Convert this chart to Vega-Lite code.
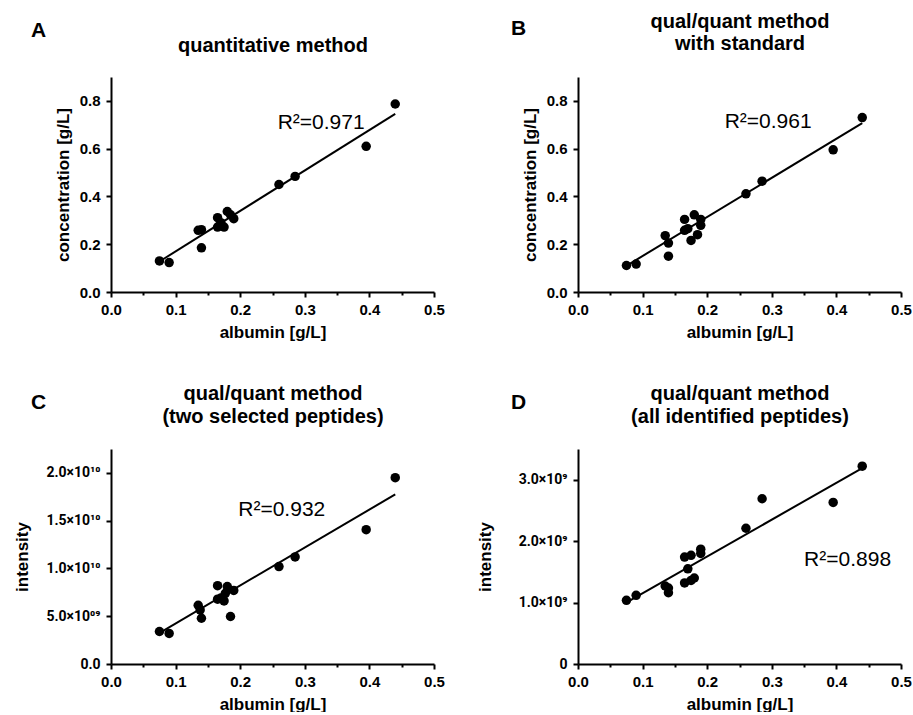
{
  "$schema": "https://vega.github.io/schema/vega-lite/v6.json",
  "background": "white",
  "padding": {"left": 13, "top": 11, "right": 0, "bottom": 0},
  "datasets": {
    "A": [
      {"x": 0.075, "y": 0.130}, {"x": 0.09, "y": 0.123}, {"x": 0.135, "y": 0.258}, {"x": 0.14, "y": 0.261},
      {"x": 0.14, "y": 0.185}, {"x": 0.165, "y": 0.311}, {"x": 0.165, "y": 0.272}, {"x": 0.17, "y": 0.29},
      {"x": 0.175, "y": 0.272}, {"x": 0.18, "y": 0.337}, {"x": 0.185, "y": 0.323}, {"x": 0.19, "y": 0.307},
      {"x": 0.26, "y": 0.450}, {"x": 0.285, "y": 0.484}, {"x": 0.395, "y": 0.610}, {"x": 0.44, "y": 0.787}
    ],
    "Aline": [{"x": 0.08, "y": 0.136}, {"x": 0.44, "y": 0.746}],
    "B": [
      {"x": 0.075, "y": 0.111}, {"x": 0.09, "y": 0.117}, {"x": 0.135, "y": 0.236}, {"x": 0.14, "y": 0.205},
      {"x": 0.14, "y": 0.150}, {"x": 0.165, "y": 0.304}, {"x": 0.165, "y": 0.258}, {"x": 0.17, "y": 0.265},
      {"x": 0.175, "y": 0.216}, {"x": 0.18, "y": 0.323}, {"x": 0.185, "y": 0.240}, {"x": 0.19, "y": 0.304},
      {"x": 0.19, "y": 0.279}, {"x": 0.26, "y": 0.411}, {"x": 0.285, "y": 0.464}, {"x": 0.395, "y": 0.595},
      {"x": 0.44, "y": 0.730}
    ],
    "Bline": [{"x": 0.08, "y": 0.118}, {"x": 0.44, "y": 0.707}],
    "C": [
      {"x": 0.075, "y": 3.4e9}, {"x": 0.09, "y": 3.2e9}, {"x": 0.135, "y": 6.15e9}, {"x": 0.138, "y": 5.66e9},
      {"x": 0.14, "y": 4.79e9}, {"x": 0.165, "y": 8.2e9}, {"x": 0.165, "y": 6.78e9}, {"x": 0.17, "y": 6.9e9},
      {"x": 0.175, "y": 6.6e9}, {"x": 0.177, "y": 7.4e9}, {"x": 0.18, "y": 8.1e9}, {"x": 0.185, "y": 4.97e9},
      {"x": 0.19, "y": 7.7e9}, {"x": 0.26, "y": 1.02e10}, {"x": 0.285, "y": 1.12e10}, {"x": 0.395, "y": 1.406e10},
      {"x": 0.44, "y": 1.95e10}
    ],
    "Cline": [{"x": 0.08, "y": 3.45e9}, {"x": 0.44, "y": 1.775e10}],
    "D": [
      {"x": 0.075, "y": 1.036e9}, {"x": 0.09, "y": 1.118e9}, {"x": 0.135, "y": 1.27e9}, {"x": 0.14, "y": 1.237e9},
      {"x": 0.14, "y": 1.16e9}, {"x": 0.165, "y": 1.74e9}, {"x": 0.165, "y": 1.32e9}, {"x": 0.17, "y": 1.55e9},
      {"x": 0.175, "y": 1.77e9}, {"x": 0.175, "y": 1.36e9}, {"x": 0.18, "y": 1.40e9}, {"x": 0.19, "y": 1.87e9},
      {"x": 0.19, "y": 1.80e9}, {"x": 0.26, "y": 2.21e9}, {"x": 0.285, "y": 2.69e9}, {"x": 0.395, "y": 2.63e9},
      {"x": 0.44, "y": 3.22e9}
    ],
    "Dline": [{"x": 0.08, "y": 1.03e9}, {"x": 0.44, "y": 3.19e9}]
  },
  "columns": 2,
  "spacing": {"row": 157, "column": 144},
  "bounds": "flush",
  "concat": [
    {
      "width": 323, "height": 215,
      "title": {"text": "A", "anchor": "start", "frame": "group", "dx": -80, "offset": -6},
      "resolve": {"axis": {"x": "independent"}},
      "layer": [
        {
          "data": {"name": "A"},
          "mark": {"type": "circle", "size": 90, "color": "black", "opacity": 1},
          "encoding": {
            "x": {"field": "x", "type": "quantitative", "scale": {"domain": [0, 0.5], "nice": false},
              "axis": {"orient": "bottom", "title": "albumin [g/L]", "values": [0, 0.05, 0.1, 0.15, 0.2, 0.25, 0.3, 0.35, 0.4, 0.45, 0.5],
                "labelExpr": "round(datum.value*20) % 2 == 0 ? format(datum.value, '.1f') : ''",
                "tickSize": {"condition": {"test": "round(datum.value*20) % 2 == 1", "value": 3}, "value": 5}}},
            "y": {"field": "y", "type": "quantitative", "scale": {"domain": [0, 0.9], "nice": false},
              "axis": {"title": "concentration [g/L]", "labelPadding": 6, "values": [0, 0.1, 0.2, 0.3, 0.4, 0.5, 0.6, 0.7, 0.8, 0.9],
                "labelExpr": "round(datum.value*10) % 2 == 0 ? format(datum.value, '.1f') : ''",
                "tickSize": {"condition": {"test": "round(datum.value*10) % 2 == 1", "value": 3}, "value": 5}}}
          }
        },
        {
          "data": {"name": "Aline"},
          "mark": {"type": "line", "color": "black", "strokeWidth": 2},
          "encoding": {
            "x": {"field": "x", "type": "quantitative",
              "axis": {"orient": "top", "domain": false, "ticks": false, "labels": false, "title": "quantitative method",
                "titleFontSize": 20, "titlePadding": 22}},
            "y": {"field": "y", "type": "quantitative"}
          }
        },
        {
          "data": {"values": [{"x": 0.258, "y": 0.709, "label": "R²=0.971"}]},
          "mark": {"type": "text", "align": "left", "baseline": "middle", "fontSize": 21, "font": "Liberation Sans", "color": "black"},
          "encoding": {
            "x": {"field": "x", "type": "quantitative", "axis": null},
            "y": {"field": "y", "type": "quantitative"},
            "text": {"field": "label"}
          }
        }
      ]
    },
    {
      "width": 323, "height": 215,
      "title": {"text": "B", "anchor": "start", "frame": "group", "dx": -67, "offset": -28},
      "resolve": {"axis": {"x": "independent"}},
      "layer": [
        {
          "data": {"name": "B"},
          "mark": {"type": "circle", "size": 90, "color": "black", "opacity": 1},
          "encoding": {
            "x": {"field": "x", "type": "quantitative", "scale": {"domain": [0, 0.5], "nice": false},
              "axis": {"orient": "bottom", "title": "albumin [g/L]", "values": [0, 0.05, 0.1, 0.15, 0.2, 0.25, 0.3, 0.35, 0.4, 0.45, 0.5],
                "labelExpr": "round(datum.value*20) % 2 == 0 ? format(datum.value, '.1f') : ''",
                "tickSize": {"condition": {"test": "round(datum.value*20) % 2 == 1", "value": 3}, "value": 5}}},
            "y": {"field": "y", "type": "quantitative", "scale": {"domain": [0, 0.9], "nice": false},
              "axis": {"title": "concentration [g/L]", "labelPadding": 6, "values": [0, 0.1, 0.2, 0.3, 0.4, 0.5, 0.6, 0.7, 0.8, 0.9],
                "labelExpr": "round(datum.value*10) % 2 == 0 ? format(datum.value, '.1f') : ''",
                "tickSize": {"condition": {"test": "round(datum.value*10) % 2 == 1", "value": 3}, "value": 5}}}
          }
        },
        {
          "data": {"name": "Bline"},
          "mark": {"type": "line", "color": "black", "strokeWidth": 2},
          "encoding": {
            "x": {"field": "x", "type": "quantitative",
              "axis": {"orient": "top", "domain": false, "ticks": false, "labels": false, "title": ["qual/quant method", "with standard"],
                "titleFontSize": 20, "titleLineHeight": 22, "titlePadding": 24}},
            "y": {"field": "y", "type": "quantitative"}
          }
        },
        {
          "data": {"values": [{"x": 0.227, "y": 0.713, "label": "R²=0.961"}]},
          "mark": {"type": "text", "align": "left", "baseline": "middle", "fontSize": 21, "font": "Liberation Sans", "color": "black"},
          "encoding": {
            "x": {"field": "x", "type": "quantitative", "axis": null},
            "y": {"field": "y", "type": "quantitative"},
            "text": {"field": "label"}
          }
        }
      ]
    },
    {
      "width": 323, "height": 215,
      "title": {"text": "C", "anchor": "start", "frame": "group", "dx": -80, "offset": -30},
      "resolve": {"axis": {"x": "independent"}},
      "layer": [
        {
          "data": {"name": "C"},
          "mark": {"type": "circle", "size": 90, "color": "black", "opacity": 1},
          "encoding": {
            "x": {"field": "x", "type": "quantitative", "scale": {"domain": [0, 0.5], "nice": false},
              "axis": {"orient": "bottom", "title": "albumin [g/L]", "values": [0, 0.05, 0.1, 0.15, 0.2, 0.25, 0.3, 0.35, 0.4, 0.45, 0.5],
                "labelExpr": "round(datum.value*20) % 2 == 0 ? format(datum.value, '.1f') : ''",
                "tickSize": {"condition": {"test": "round(datum.value*20) % 2 == 1", "value": 3}, "value": 5}}},
            "y": {"field": "y", "type": "quantitative", "scale": {"domain": [0, 2.25e10], "nice": false},
              "axis": {"title": "intensity", "labelFontSize": 14, "labelFont": "Roboto", "labelPadding": 6, "titlePadding": 14,
                "values": [0, 2.5e9, 5e9, 7.5e9, 1e10, 1.25e10, 1.5e10, 1.75e10, 2e10, 2.25e10],
                "labelExpr": "datum.value == 0 ? '0.0' : datum.value == 5e9 ? '5.0×10⁰⁹' : datum.value == 1e10 ? '1.0×10¹⁰' : datum.value == 1.5e10 ? '1.5×10¹⁰' : datum.value == 2e10 ? '2.0×10¹⁰' : ''",
                "tickSize": {"condition": {"test": "round(datum.value/2.5e9) % 2 == 1", "value": 3}, "value": 5}}}
          }
        },
        {
          "data": {"name": "Cline"},
          "mark": {"type": "line", "color": "black", "strokeWidth": 2},
          "encoding": {
            "x": {"field": "x", "type": "quantitative",
              "axis": {"orient": "top", "domain": false, "ticks": false, "labels": false, "title": ["qual/quant method", "(two selected peptides)"],
                "titleFontSize": 20, "titleLineHeight": 23, "titlePadding": 23}},
            "y": {"field": "y", "type": "quantitative"}
          }
        },
        {
          "data": {"values": [{"x": 0.197, "y": 1.615e10, "label": "R²=0.932"}]},
          "mark": {"type": "text", "align": "left", "baseline": "middle", "fontSize": 21, "font": "Liberation Sans", "color": "black"},
          "encoding": {
            "x": {"field": "x", "type": "quantitative", "axis": null},
            "y": {"field": "y", "type": "quantitative"},
            "text": {"field": "label"}
          }
        }
      ]
    },
    {
      "width": 323, "height": 215,
      "title": {"text": "D", "anchor": "start", "frame": "group", "dx": -67, "offset": -30},
      "resolve": {"axis": {"x": "independent"}},
      "layer": [
        {
          "data": {"name": "D"},
          "mark": {"type": "circle", "size": 90, "color": "black", "opacity": 1},
          "encoding": {
            "x": {"field": "x", "type": "quantitative", "scale": {"domain": [0, 0.5], "nice": false},
              "axis": {"orient": "bottom", "title": "albumin [g/L]", "values": [0, 0.05, 0.1, 0.15, 0.2, 0.25, 0.3, 0.35, 0.4, 0.45, 0.5],
                "labelExpr": "round(datum.value*20) % 2 == 0 ? format(datum.value, '.1f') : ''",
                "tickSize": {"condition": {"test": "round(datum.value*20) % 2 == 1", "value": 3}, "value": 5}}},
            "y": {"field": "y", "type": "quantitative", "scale": {"domain": [0, 3.5e9], "nice": false},
              "axis": {"title": "intensity", "labelFontSize": 14, "labelFont": "Roboto", "labelPadding": 6, "titlePadding": 24,
                "values": [0, 5e8, 1e9, 1.5e9, 2e9, 2.5e9, 3e9, 3.5e9],
                "labelExpr": "datum.value == 0 ? '0' : datum.value == 1e9 ? '1.0×10⁹' : datum.value == 2e9 ? '2.0×10⁹' : datum.value == 3e9 ? '3.0×10⁹' : ''",
                "tickSize": {"condition": {"test": "round(datum.value/5e8) % 2 == 1", "value": 3}, "value": 5}}}
          }
        },
        {
          "data": {"name": "Dline"},
          "mark": {"type": "line", "color": "black", "strokeWidth": 2},
          "encoding": {
            "x": {"field": "x", "type": "quantitative",
              "axis": {"orient": "top", "domain": false, "ticks": false, "labels": false, "title": ["qual/quant method", "(all identified peptides)"],
                "titleFontSize": 20, "titleLineHeight": 23, "titlePadding": 23}},
            "y": {"field": "y", "type": "quantitative"}
          }
        },
        {
          "data": {"values": [{"x": 0.35, "y": 1.70e9, "label": "R²=0.898"}]},
          "mark": {"type": "text", "align": "left", "baseline": "middle", "fontSize": 21, "font": "Liberation Sans", "color": "black"},
          "encoding": {
            "x": {"field": "x", "type": "quantitative", "axis": null},
            "y": {"field": "y", "type": "quantitative"},
            "text": {"field": "label"}
          }
        }
      ]
    }
  ],
  "config": {
    "view": {"stroke": null},
    "font": "Liberation Sans",
    "axis": {
      "grid": false,
      "domainColor": "black", "domainWidth": 2,
      "tickColor": "black", "tickWidth": 2,
      "labelColor": "black", "labelFont": "Liberation Sans", "labelFontWeight": "bold", "labelFontSize": 15, "labelPadding": 5,
      "labelOverlap": false, "labelFlush": false,
      "titleColor": "black", "titleFont": "Liberation Sans", "titleFontWeight": "bold", "titleFontSize": 17, "titlePadding": 7
    },
    "title": {"font": "Liberation Sans", "fontWeight": "bold", "fontSize": 21, "color": "black"}
  }
}
